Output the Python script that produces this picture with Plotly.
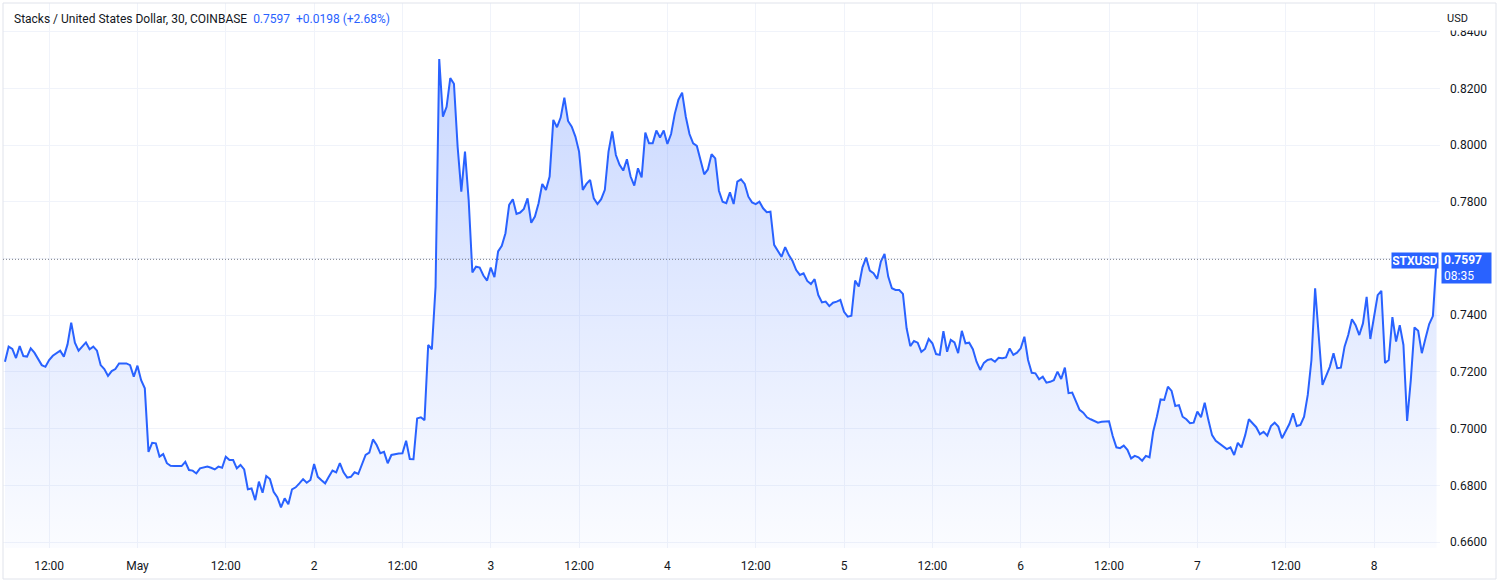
import pandas as pd
import plotly.graph_objects as go

# ---------------- data (30-minute closes, STX/USD) ----------------
series_start = "2023-04-30 06:00"
bar_interval = "30min"

apr30 = [.7236, .7289, .7281, .7249, .7291, .7256, .7254, .7283, .7268, .7244,
         .7224, .7218, .7242, .7257, .7265, .7275, .7254, .7297, .7374, .7303,
         .7275, .7290, .7304, .7280, .7289, .7275, .7224, .7210, .7186, .7203,
         .7210, .7230, .7230, .7230, .7224, .7183]
may1 = [.7222, .7171, .7142, .6918, .6950, .6948, .6901, .6910, .6878, .6869,
        .6868, .6868, .6868, .6883, .6854, .6852, .6842, .6860, .6863, .6866,
        .6862, .6856, .6866, .6862, .6901, .6889, .6889, .6860, .6872, .6856,
        .6786, .6789, .6748, .6813, .6774, .6833, .6822, .6777, .6758, .6722,
        .6754, .6733, .6786, .6793, .6807, .6822, .6809, .6819]
may2 = [.6875, .6830, .6818, .6807, .6830, .6852, .6846, .6878, .6846, .6827,
        .6830, .6846, .6840, .6872, .6907, .6915, .6962, .6942, .6913, .6918,
        .6878, .6907, .6910, .6912, .6913, .6957, .6893, .6892, .7036, .7040,
        .7030, .7295, .7280, .7500, .8303, .8100, .8135, .8236, .8216, .7994,
        .7836, .7977, .7806, .7551, .7571, .7568, .7540, .7522]
may3 = [.7568, .7534, .7625, .7645, .7689, .7789, .7809, .7757, .7762, .7775,
        .7812, .7726, .7748, .7795, .7863, .7842, .7889, .8089, .8063, .8097,
        .8167, .8085, .8065, .8030, .7977, .7842, .7863, .7877, .7812, .7792,
        .7809, .7842, .7977, .8048, .7965, .7930, .7910, .7950, .7889, .7857,
        .7918, .7886, .8044, .8006, .8006, .8051, .8027, .8051]
may4 = [.8004, .8039, .8110, .8160, .8185, .8100, .8039, .8006, .7997, .7945,
        .7897, .7914, .7968, .7953, .7839, .7800, .7795, .7833, .7792, .7871,
        .7879, .7863, .7818, .7798, .7792, .7800, .7777, .7763, .7765, .7648,
        .7628, .7606, .7640, .7612, .7591, .7559, .7542, .7548, .7521, .7510,
        .7527, .7471, .7445, .7448, .7432, .7444, .7448, .7454]
may5 = [.7412, .7395, .7398, .7522, .7501, .7569, .7603, .7557, .7548, .7528,
        .7589, .7616, .7536, .7495, .7489, .7489, .7475, .7354, .7291, .7309,
        .7303, .7271, .7281, .7316, .7301, .7263, .7260, .7344, .7271, .7313,
        .7304, .7266, .7345, .7301, .7303, .7280, .7236, .7207, .7232, .7242,
        .7245, .7236, .7250, .7248, .7251, .7283, .7260, .7268]
may6 = [.7283, .7324, .7242, .7197, .7195, .7174, .7183, .7162, .7165, .7171,
        .7201, .7175, .7215, .7125, .7127, .7095, .7066, .7056, .7040, .7033,
        .7027, .7021, .7024, .7025, .7026, .6974, .6934, .6931, .6940, .6925,
        .6895, .6904, .6899, .6887, .6904, .6899, .6989, .7042, .7103, .7101,
        .7148, .7133, .7080, .7083, .7042, .7033, .7019, .7021]
may7 = [.7060, .7040, .7091, .7030, .6977, .6957, .6948, .6936, .6928, .6934,
        .6907, .6950, .6934, .6977, .7033, .7019, .7005, .6980, .6989, .6975,
        .7009, .7021, .7007, .6966, .6989, .7016, .7054, .7009, .7013, .7042,
        .7119, .7242, .7495, .7313, .7154, .7186, .7218, .7266, .7213, .7215,
        .7289, .7330, .7386, .7365, .7330, .7371, .7465, .7316]
may8 = [.7395, .7471, .7486, .7232, .7242, .7393, .7307, .7365, .7295, .7027,
        .7171, .7357, .7345, .7266, .7319, .7369, .7397, .7597]

x_tick_times = pd.date_range("2023-04-30 12:00", "2023-05-08 00:00", freq="12h")
x_tick_labels = ["12:00", "May", "12:00", "2", "12:00", "3", "12:00", "4",
                 "12:00", "5", "12:00", "6", "12:00", "7", "12:00", "8"]
y_tick_values = [0.66, 0.68, 0.70, 0.72, 0.74, 0.76, 0.78, 0.80, 0.82, 0.84]

symbol = "STXUSD"
title_text = "Stacks / United States Dollar, 30, COINBASE"
change_abs = 0.0198
change_pct = 2.68
countdown = "08:35"

x_view = ["2023-04-30 05:44", "2023-05-08 08:58"]
y_view = [0.6579, 0.8501]

# ---------------- build ----------------
prices = apr30 + may1 + may2 + may3 + may4 + may5 + may6 + may7 + may8
times = pd.date_range(series_start, periods=len(prices), freq=bar_interval)
last = prices[-1]

W, H = 1500, 587
ML, MR, MT, MB = 3, 60, 3, 39
PW, PH = W - ML - MR, H - MT - MB

def px(xp):
    return (xp - ML) / PW

def py(yp):
    return (H - MB - yp) / PH

BLUE = "#2962FF"
TEXT = "#131722"
GRID = "#f0f3fa"
FONT = "Roboto, 'Noto Sans', sans-serif"

# the price label box covers the tick label at the last price level
y_tick_text = ["" if abs(v - last) < 0.004 else f"{v:.4f}" for v in y_tick_values]

fig = go.Figure()
fig.add_trace(go.Scatter(
    x=times, y=prices, mode="lines",
    line=dict(color=BLUE, width=2),
    fill="tozeroy",
    fillgradient=dict(type="vertical",
                      colorscale=[[0, "rgba(41,98,255,0.02)"], [1, "rgba(41,98,255,0.25)"]],
                      start=y_view[0], stop=max(prices)),
    hoverinfo="skip", showlegend=False,
))

fig.update_layout(
    width=W, height=H,
    margin=dict(l=ML, r=MR, t=MT, b=MB, pad=0),
    paper_bgcolor="white", plot_bgcolor="white",
    font=dict(family=FONT, size=12, color=TEXT),
    showlegend=False,
    xaxis=dict(type="date", range=x_view, tickmode="array",
               tickvals=x_tick_times, ticktext=x_tick_labels,
               showgrid=True, gridcolor=GRID, gridwidth=1,
               zeroline=False, showline=False, ticks="",
               ticklabelstandoff=9, tickfont=dict(size=12, color=TEXT)),
    yaxis=dict(side="right", range=y_view, tickmode="array",
               tickvals=y_tick_values, ticktext=y_tick_text,
               showgrid=True, gridcolor=GRID, gridwidth=1,
               zeroline=False, showline=False, ticks="",
               ticklabelstandoff=9, tickfont=dict(size=12, color=TEXT)),
)

shapes = [
    # outer frame
    dict(type="rect", xref="paper", yref="paper", x0=px(3), x1=px(1496), y0=py(579), y1=py(3),
         line=dict(color="#e0e3eb", width=1), fillcolor="rgba(0,0,0,0)", layer="above"),
    # last price dotted line
    dict(type="line", xref="paper", yref="y", x0=0, x1=px(1390), y0=last, y1=last,
         line=dict(color="#787b86", width=1, dash="1px,2px"), layer="above"),
]
fig.update_layout(shapes=shapes)

annotations = [
    dict(xref="paper", yref="paper", x=px(12), y=py(19), xanchor="left", yanchor="middle",
         showarrow=False, align="left",
         text=(f"{title_text}\u00a0\u00a0<span style='color:{BLUE}'>{last:.4f}"
               f"\u00a0\u00a0+{change_abs:.4f} (+{change_pct:.2f}%)</span>"),
         font=dict(size=12, color=TEXT, family=FONT)),
    dict(xref="paper", yref="paper", x=px(1446), y=py(5), xanchor="left", yanchor="top",
         showarrow=False, text="USD", width=46, height=24, valign="middle", align="left",
         bgcolor="white", borderpad=0, font=dict(size=11, color=TEXT, family=FONT)),
    dict(xref="paper", yref="paper", x=px(1391), y=py(252), xanchor="left", yanchor="top",
         showarrow=False, text=f"<b>{symbol}</b>", bgcolor=BLUE, borderpad=1,
         width=44, height=13, font=dict(size=12, color="white", family=FONT)),
    dict(xref="paper", yref="paper", x=px(1441), y=py(252), xanchor="left", yanchor="top",
         showarrow=False, text=f"<b>{last:.4f}</b><br>{countdown}", align="left",
         bgcolor=BLUE, borderpad=2, width=45, height=26,
         font=dict(size=12, color="white", family=FONT)),
]
fig.update_layout(annotations=annotations)

fig.write_html("out.html", config={"displayModeBar": False},
               post_script="document.body.style.margin='0px';")
